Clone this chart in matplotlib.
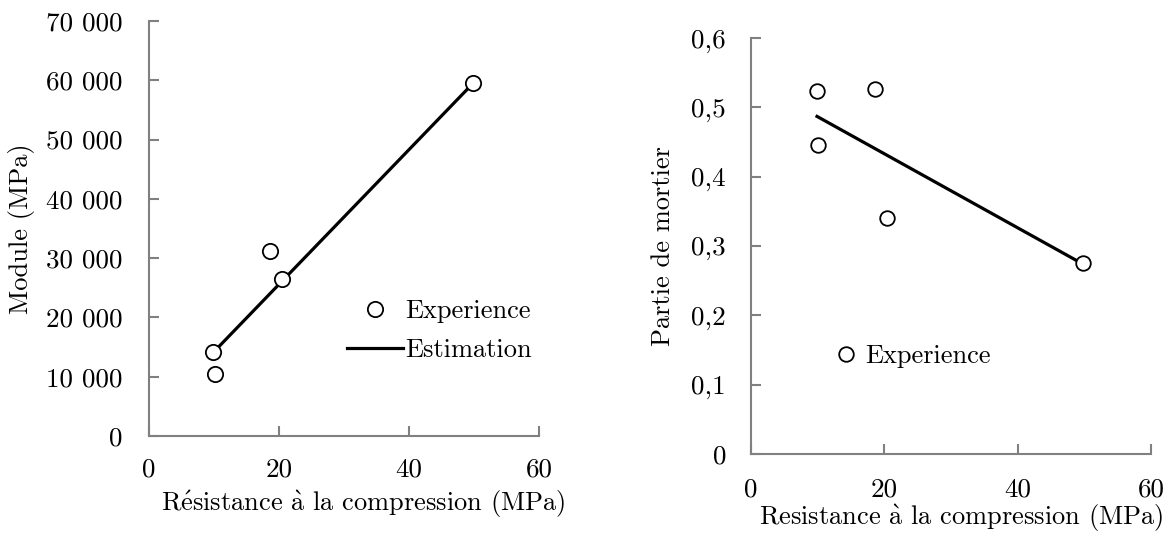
import matplotlib
matplotlib.use('Agg')
import matplotlib.pyplot as plt
from matplotlib.ticker import FuncFormatter, MultipleLocator

# Données
resistance = [9.9, 10.1, 18.6, 20.4, 49.8]
module = [14100, 10500, 31200, 26400, 59500]
mortier = [0.524, 0.446, 0.527, 0.340, 0.276]

# Droites d'estimation (extrémités)
est_resistance = [9.9, 49.6]
est_module = [14100, 59200]
est_mortier = [0.487, 0.275]

plt.rcParams['font.family'] = ['cmr10', 'DejaVu Serif']
plt.rcParams['mathtext.fontset'] = 'cm'
plt.rcParams['font.size'] = 19
plt.rcParams['axes.unicode_minus'] = False

gris = '#808080'
fs = 19

def style_axes(ax):
    for s in ['top', 'right']:
        ax.spines[s].set_visible(False)
    for s in ['left', 'bottom']:
        ax.spines[s].set_color(gris)
        ax.spines[s].set_linewidth(1.5)
    ax.tick_params(direction='in', length=7, width=1.5, color=gris,
                   labelsize=19.5, labelcolor='black')

fig = plt.figure(figsize=(11.72, 5.36), dpi=100)

# Graphique de gauche : module
ax1 = fig.add_axes([0.1271, 0.1866, 0.3328, 0.7743])
ax1.plot(est_resistance, est_module, color='black', lw=2.3, label='Estimation', zorder=2)
ax1.plot(resistance, module, 'o', ms=11, mfc='white', mec='black', mew=1.3,
         label='Experience', zorder=3)
ax1.set_xlim(0, 60)
ax1.set_ylim(0, 70000)
ax1.xaxis.set_major_locator(MultipleLocator(20))
ax1.yaxis.set_major_locator(MultipleLocator(10000))
ax1.yaxis.set_major_formatter(FuncFormatter(lambda v, p: f'{int(v):,}'.replace(',', ' ')))
style_axes(ax1)
ax1.tick_params(axis='x', pad=16)
ax1.tick_params(axis='y', pad=19)
ax1.set_xlabel(r'R$\acute{\mathrm{e}}$sistance $\grave{\mathrm{a}}$ la compression (MPa)',
               fontsize=fs, labelpad=5, x=0.548)
ax1.set_ylabel('Module (MPa)', fontsize=fs, labelpad=8)
h, l = ax1.get_legend_handles_labels()
ax1.legend(h[::-1], l[::-1], loc='upper left', bbox_to_anchor=(0.508, 0.33),
           frameon=False, handlelength=2.1, handletextpad=0.1, labelspacing=0.6,
           borderaxespad=0, borderpad=0, fontsize=fs)

# Graphique de droite : partie de mortier
ax2 = fig.add_axes([0.6408, 0.153, 0.3413, 0.776])
ax2.plot(est_resistance, est_mortier, color='black', lw=2.3, zorder=2)
ax2.plot(resistance, mortier, 'o', ms=10.5, mfc='white', mec='black', mew=1.3,
         label='Experience', zorder=3)
ax2.set_xlim(0, 60)
ax2.set_ylim(0, 0.6)
ax2.xaxis.set_major_locator(MultipleLocator(20))
ax2.yaxis.set_major_locator(MultipleLocator(0.1))
ax2.yaxis.set_major_formatter(FuncFormatter(lambda v, p: '0' if abs(v) < 1e-9 else f'{v:.1f}'.replace('.', ',')))
style_axes(ax2)
ax2.tick_params(axis='x', pad=17)
ax2.tick_params(axis='y', pad=18)
ax2.set_xlabel(r'Resistance $\grave{\mathrm{a}}$ la compression (MPa)', fontsize=fs,
               labelpad=1, x=0.525)
ax2.set_ylabel('Partie de mortier', fontsize=fs, labelpad=12)
ax2.legend(loc='center left', bbox_to_anchor=(0.212, 0.235), frameon=False,
           handlelength=0.8, handletextpad=0.3, borderaxespad=0, borderpad=0,
           fontsize=fs)

fig.savefig('out.png', dpi=100)
